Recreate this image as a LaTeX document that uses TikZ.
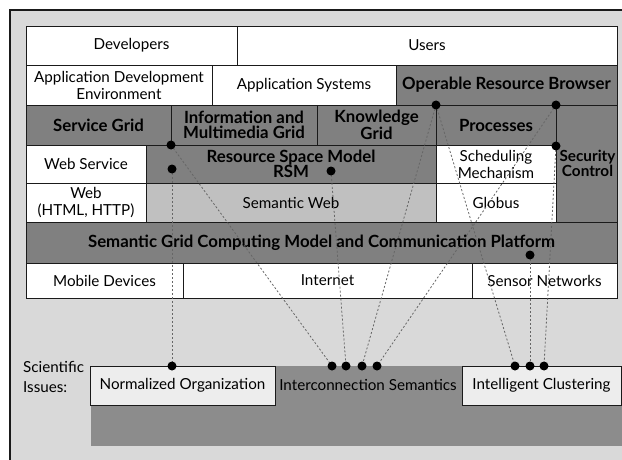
\documentclass[tikz,border=0pt]{standalone}
\usepackage{fontspec}
\setmainfont{Lato}
\definecolor{framebg}{HTML}{D9D9D9}
\definecolor{darkcell}{HTML}{808080}
\definecolor{lightcell}{HTML}{C0C0C0}
\definecolor{issuebg}{HTML}{8C8C8C}
\definecolor{issuebox}{HTML}{EDEDED}
\definecolor{edge}{HTML}{1A1A1A}
\definecolor{linkgray}{HTML}{666666}
\newcommand\regfont{\fontsize{15.2}{17}\selectfont}
\newcommand\boldfont{\fontsize{16.8}{15.5}\selectfont\bfseries}
\tikzset{
  cell/.style={draw=edge, line width=0.9pt, inner sep=0pt, align=center,
    font=\regfont},
  plain/.style={cell, fill=white},
  dark/.style={cell, fill=darkcell, font=\boldfont},
  light/.style={cell, fill=lightcell},
  issue/.style={draw=edge, line width=0.9pt, fill=issuebox, inner sep=0pt,
    font=\regfont},
  dot/.style={circle, fill=black, inner sep=0pt, minimum size=9pt},
  link/.style={draw=linkgray, line width=0.8pt, dash pattern=on 2pt off 2pt},
}
% \cellbox{name}{x1}{y1}{x2}{y2}{style}{text}
\newcommand\cellbox[7]{%
  \node[#6, minimum width={(#4-#2)*1pt}, minimum height={(#5-#3)*1pt}]
    (#1) at ({(#2+#4)/2},{(#3+#5)/2}) {#7};}
\begin{document}
\begin{tikzpicture}[x=1pt, y=-1pt]
\useasboundingbox (0,0) rectangle (622,460);
\clip (0,0) rectangle (622,460);
% outer panel
\fill[framebg] (10,10) rectangle (640,480);
\draw[edge, line width=1.2pt] (10,480) -- (10,10) -- (640,10);

% layered architecture
\cellbox{dev}{26}{26}{237}{65}{plain}{Developers}
\cellbox{users}{237}{26}{617}{65}{plain}{Users}
\cellbox{ade}{26}{65}{212}{105}{plain}{Application Development\\Environment}
\cellbox{appsys}{212}{65}{396}{105}{plain}{Application Systems}
\cellbox{orb}{396}{65}{617}{105}{dark}{Operable Resource Browser}
\cellbox{sgrid}{26}{105}{171}{145}{dark}{Service Grid}
\cellbox{imgrid}{171}{105}{317}{145}{dark}{Information and\\Multimedia Grid}
\cellbox{kgrid}{317}{105}{436}{145}{dark}{Knowledge\\Grid}
\cellbox{proc}{436}{105}{556}{145}{dark}{Processes}
\cellbox{sec}{556}{105}{617}{222}{dark, font=\fontsize{15.3}{15}\selectfont\bfseries}{\hspace*{2pt}Security\\\hspace*{2pt}Control}
\cellbox{ws}{26}{145}{146}{183}{plain}{Web Service}
\cellbox{rsm}{146}{145}{436}{183}{dark}{Resource Space Model\\RSM}
\cellbox{sched}{436}{145}{556}{183}{plain}{Scheduling\\Mechanism}
\cellbox{web}{26}{183}{146}{222}{plain}{Web\\(HTML, HTTP)}
\cellbox{semweb}{146}{183}{436}{222}{light}{Semantic Web}
\cellbox{globus}{436}{183}{556}{222}{plain}{Globus}
\cellbox{platform}{26}{222}{617}{263}{dark}{Semantic Grid Computing Model and Communication Platform}
\cellbox{mobile}{26}{263}{183}{298}{plain}{Mobile Devices}
\cellbox{inet}{183}{263}{472}{298}{plain}{Internet}
\cellbox{sensor}{472}{263}{617}{298}{plain}{Sensor Networks}

% scientific issues
\node[anchor=west, align=left, inner sep=0pt, font=\fontsize{15.2}{20}\selectfont]
  (sci) at (23,377) {Scientific\\Issues:};
\fill[issuebg] (91,366) rectangle (640,446);
\cellbox{norm}{90}{366}{275}{405}{issue}{Normalized Organization}
\node[inner sep=0pt, font=\regfont] (inter) at (368,385) {Interconnection Semantics};
\cellbox{clust}{462}{366}{621}{405}{issue}{Intelligent Clustering}

% anchor dots
\coordinate (pd1) at (171,145);
\coordinate (pd2) at (172,169);
\coordinate (pd3) at (331,171);
\coordinate (pd4) at (436,105);
\coordinate (pd5) at (556,105);
\coordinate (pd6) at (556,146);
\coordinate (pd7) at (530,255);
\coordinate (pn1) at (172,366);
\coordinate (pi1) at (332,366);
\coordinate (pi2) at (346,366);
\coordinate (pi3) at (362,366);
\coordinate (pi4) at (377,366);
\coordinate (pc1) at (515,366);
\coordinate (pc2) at (530,366);
\coordinate (pc3) at (544,366);

\path[link] (pd2) -- (pn1);
\path[link] (pd1) -- (pi1);
\path[link] (pd3) -- (pi2);
\path[link] (pd4) -- (pi3);
\path[link] (pd5) -- (pi4);
\path[link] (pd4) -- (pc1);
\path[link] (pd7) -- (pc2);
\path[link] (pd6) -- (pc3);

\foreach \p in {d1,d2,d3,d4,d5,d6,d7,n1,i1,i2,i3,i4,c1,c2,c3}
  \node[dot] (\p) at (p\p) {};
\end{tikzpicture}
\end{document}
